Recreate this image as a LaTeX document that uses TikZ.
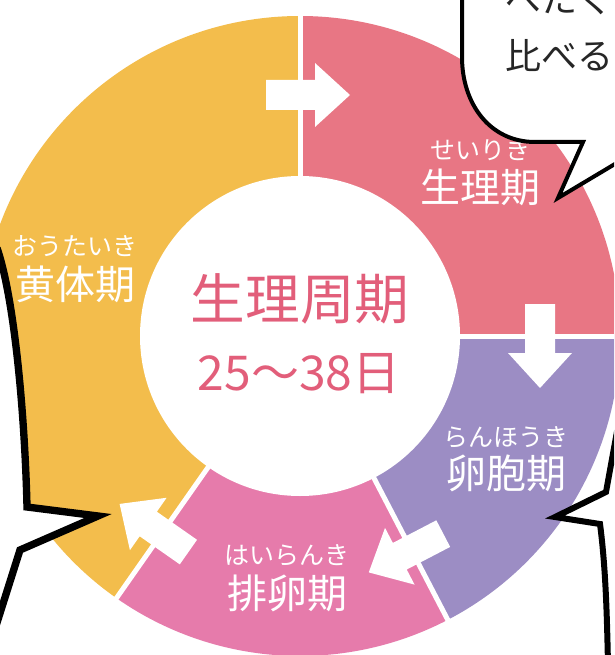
\documentclass[tikz,border=0pt]{standalone}
\usepackage{fontspec}
\newfontfamily\jp{Noto Sans CJK JP}
\definecolor{cyel}{HTML}{F3BD4C}
\definecolor{cred}{HTML}{E87684}
\definecolor{cpur}{HTML}{9C8DC4}
\definecolor{cpink}{HTML}{E67BAB}
\definecolor{ctext}{HTML}{E25E7A}
\begin{document}
\begin{tikzpicture}[x=0.75pt,y=-0.75pt,
  gapline/.style={white, line width=3.75pt},
  lbl/.style={text=white, font=\jp\fontsize{30}{30}\selectfont, inner sep=0pt},
  kana/.style={text=white, font=\jp\fontsize{18.75}{19}\selectfont, inner sep=0pt},
  bubble/.style={draw=black, line join=miter, line cap=butt},
  barrow/.pic={\fill[white] (-42,-15) -- (7,-15) -- (7,-32) -- (42,0) -- (7,32) -- (7,15) -- (-42,15) -- cycle;}
  ]
\useasboundingbox (0,0) rectangle (614,655);
\clip (0,0) rectangle (614,655);
\fill[white] (0,0) rectangle (614,655);
\coordinate (c) at (300,336);
% donut sectors
\fill[cred]  (c) -- ++(0:320) arc[start angle=0, end angle=-90, radius=320] -- cycle;
\fill[cyel]  (c) -- ++(-90:320) arc[start angle=-90, end angle=-235, radius=320] -- cycle;
\fill[cpink] (c) -- ++(-235:320) arc[start angle=-235, end angle=-297.5, radius=320] -- cycle;
\fill[cpur]  (c) -- ++(-297.5:320) arc[start angle=-297.5, end angle=-360, radius=320] -- cycle;
\draw[gapline] (c) -- ++(0:330);
\draw[gapline] (c) -- ++(-90:330);
\draw[gapline] (c) -- ++(-235:330);
\draw[gapline] (c) -- ++(-297.5:330);
\fill[white] (c) circle[radius=160];
% arrows
\pic[rotate=0] at (308,95) {barrow};
\pic[rotate=-90] at (540,346) {barrow};
\pic[rotate=207.5] at (406,553) {barrow};
\pic[rotate=145] at (154,528) {barrow};
% labels
\node[kana] (k1) at (480,150) {せいりき};
\node[lbl]  (l1) at (480,187) {生理期};
\node[kana] (k2) at (75,246) {おうたいき};
\node[lbl]  (l2) at (75,284) {黄体期};
\node[kana] (k3) at (506,437) {らんほうき};
\node[lbl]  (l3) at (506,473) {卵胞期};
\node[kana] (k4) at (287,555) {はいらんき};
\node[lbl]  (l4) at (287,593) {排卵期};
\node[text=ctext, font=\jp\fontsize{41}{41}\selectfont, inner sep=0pt] (title) at (300,299) {生理周期};
\node[text=ctext, font=\jp\fontsize{36}{36}\selectfont, inner sep=0pt] (days) at (299,374) {25〜38日};
% bubbles
\fill[white] (462,-10) -- (462,57) .. controls (462,104) and (490,142) .. (535,142) -- (583,142) -- (558,198) -- (625,158) -- (625,-10) -- cycle;
\draw[bubble, line width=3pt] (462,-10) -- (462,57) .. controls (462,104) and (490,142) .. (535,142) -- (583,142) -- (558,198) -- (625,158);
\fill[white] (-10,240) -- (-3,248) .. controls (15,300) and (25,420) .. (27,507) -- (98,516) -- (20,550) -- (-5,629) -- (-10,629) -- cycle;
\draw[bubble, line width=5.5pt] (-3,248) .. controls (15,300) and (25,420) .. (27,507) -- (98,516) -- (20,550) -- (-5,629);
\fill[white] (620,415) -- (606,492) -- (555,517) -- (600,524) .. controls (606,570) and (607,620) .. (608,665) -- (625,665) -- (625,415) -- cycle;
\draw[bubble, line width=4.5pt] (620,415) -- (606,492) -- (555,517) -- (600,524) .. controls (606,570) and (607,620) .. (608,665);
% bubble text
\node[anchor=west, text=black!85, font=\jp\fontsize{27}{27}\selectfont, inner sep=0pt] (t1) at (505,-1) {べたく};
\node[anchor=west, text=black!85, font=\jp\fontsize{27}{27}\selectfont, inner sep=0pt] (t2) at (505,56) {比べる};
\end{tikzpicture}
\end{document}
